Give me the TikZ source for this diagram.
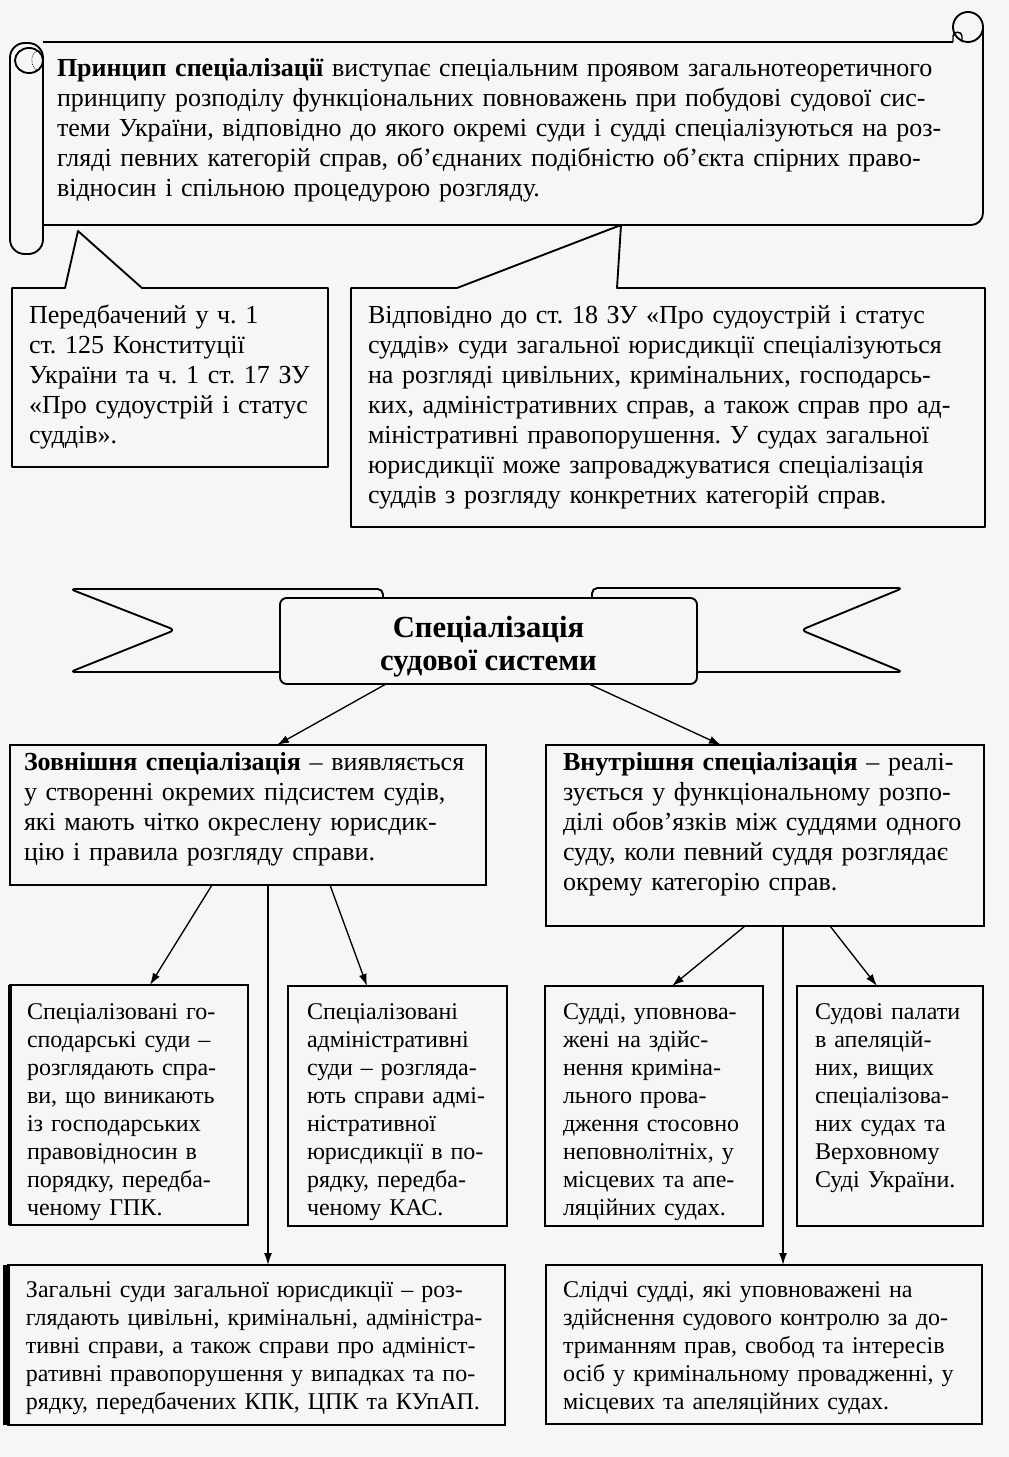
\documentclass[tikz,border=0pt]{standalone}
\usepackage{fontspec}
\setmainfont{Liberation Serif}
\usetikzlibrary{arrows.meta,calc,fit}
\definecolor{bgc}{HTML}{F6F6F6}
\frenchspacing
\newcommand\fu{\fontsize{19.5}{22.5}\selectfont}
\newcommand\fl{\fontsize{18}{21}\selectfont}
\newcommand\ftt{\fontsize{23}{24.75}\selectfont\bfseries}
\newcommand\J[1]{\makebox[\linewidth][s]{#1}}
\begin{document}
\begin{tikzpicture}[x=0.75pt,y=-0.75pt,
  ln/.style={line width=1.4pt, line join=round},
  box/.style={draw, line width=1.4pt, inner sep=0pt, outer sep=0pt, rectangle},
  txt/.style={anchor=north west, inner sep=0pt, outer sep=0pt, align=left},
  arr/.style={line width=1pt, -{Latex[length=9pt,width=6pt]}},
]
\useasboundingbox (0,0) rectangle (1009,1457);
\fill[bgc] (0,0) rectangle (1009,1457);

% ---------- scroll ----------
\draw[ln] (43,42) -- (953,42);
\draw[ln, rounded corners=9pt] (983,27) -- (983,225) -- (43,225);
\draw[ln] (968,27) circle (11.25pt);
\draw[line width=1.1pt] (953,42) -- (953,36) .. controls (953,31) and (962,31) .. (962,36) -- (962,42);
\draw[ln, rounded corners=11pt] (10,43) rectangle (43,254);
\draw[ln] (29,60.5) ellipse [x radius=10.5pt, y radius=9.4pt];
\draw[line width=0.6pt, densely dotted] (37,51) .. controls (30,54) and (30,67) .. (38,71);
\node[txt, font=\fu, text width=663.75pt] (princ) at (57,55) {%
\J{\strut\textbf{Принцип спеціалізації} виступає спеціальним проявом загальнотеоретичного}\\
\J{принципу розподілу функціональних повноважень при побудові судової сис-}\\
\J{теми України, відповідно до якого окремі суди і судді спеціалізуються на роз-}\\
\J{гляді певних категорій справ, об’єднаних подібністю об’єкта спірних право-}\\
відносин і спільною процедурою розгляду.};

% ---------- callout boxes ----------
\draw[ln] (12,288) -- (65,288) -- (78,231) -- (142,288) -- (328,288) -- (328,467) -- (12,467) -- cycle;
\node[txt, font=\fu, text width=225pt] (konst) at (29,302) {%
\strut Передбачений у ч. 1\\
ст. 125 Конституції\\
України та ч. 1 ст. 17 ЗУ\\
«Про судоустрій і статус\\
суддів».};

\draw[ln] (351,288) -- (457,288) -- (621,225) -- (617,288) -- (985,288) -- (985,527) -- (351,527) -- cycle;
\node[txt, font=\fu, text width=448.5pt] (st18) at (368,302) {%
\J{\strut Відповідно до ст. 18 ЗУ «Про судоустрій і статус}\\
\J{суддів» суди загальної юрисдикції спеціалізуються}\\
\J{на розгляді цивільних, кримінальних, господарсь-}\\
\J{ких, адміністративних справ, а також справ про ад-}\\
\J{міністративні правопорушення. У судах загальної}\\
\J{юрисдикції може запроваджуватися спеціалізація}\\
суддів з розгляду конкретних категорій справ.};

% ---------- banner ----------
\draw[ln, rounded corners=4pt] (280,672) -- (70,672) -- (175,630) -- (70,589) -- (383,589) -- (383,598);
\draw[ln, rounded corners=4pt] (592,598) -- (592,588) -- (903,588) -- (801,630) -- (903,672) -- (697,672);
\node[box, rounded corners=5pt, fit={(280,598) (697,684)}] (ban) {};
\node[anchor=north, inner sep=0pt, align=center, font=\ftt] (bant) at (488.5,614) {\strut Спеціалізація\\судової системи};

% ---------- level 2 ----------
\node[box, fit={(10,745) (486,885)}] (zov) {};
\node[txt, font=\fu, text width=336pt] (zovt) at (24,749) {%
\J{\strut\textbf{Зовнішня спеціалізація} – виявляється}\\
\J{у створенні окремих підсистем судів,}\\
\J{які мають чітко окреслену юрисдик-}\\
цію і правила розгляду справи.};

\node[box, fit={(546,745) (984,926)}] (vnu) {};
\node[txt, font=\fu, text width=295.5pt] (vnut) at (563,749) {%
\J{\strut\textbf{Внутрішня спеціалізація} – реалі-}\\
\J{зується у функціональному розпо-}\\
\J{ділі обов’язків між суддями одного}\\
\J{суду, коли певний суддя розглядає}\\
окрему категорію справ.};

% ---------- level 3 ----------
\node[box, fit={(10,985) (248,1225)}] (gos) {};
\draw[line width=3.5pt] (gos.north west) -- (gos.south west);
\node[txt, font=\fl, text width=165pt] (gost) at (27,999.4) {%
\strut Спеціалізовані го-\\
сподарські суди –\\
розглядають спра-\\
ви, що виникають\\
із господарських\\
правовідносин в\\
порядку, передба-\\
ченому ГПК.};

\node[box, fit={(288,986) (507,1226)}] (adm) {};
\node[txt, font=\fl, text width=155pt] (admt) at (307,999.4) {%
\strut Спеціалізовані\\
адміністративні\\
суди – розгляда-\\
ють справи адмі-\\
ністративної\\
юрисдикції в по-\\
рядку, передба-\\
ченому КАС.};

\node[box, fit={(545,986) (763,1226)}] (sud) {};
\node[txt, font=\fl, text width=155pt] (sudt) at (563,999.4) {%
\strut Судді, уповнова-\\
жені на здійс-\\
нення кримінa-\\
льного прова-\\
дження стосовно\\
неповнолітніх, у\\
місцевих та апе-\\
ляційних судах.};

\node[box, fit={(797,986) (983,1226)}] (pal) {};
\node[txt, font=\fl, text width=130pt] (palt) at (815,999.4) {%
\strut Судові палати\\
в апеляцій-\\
них, вищих\\
спеціалізова-\\
них судах та\\
Верховному\\
Суді України.};

% ---------- level 4 ----------
\node[box, fit={(8,1265) (505,1425)}] (zag) {};
\draw[line width=5pt] ([xshift=-1pt]zag.north west) -- ([xshift=-1pt]zag.south west);
\node[txt, font=\fl, text width=342pt] (zagt) at (26,1277.4) {%
\J{\strut Загальні суди загальної юрисдикції – роз-}\\
\J{глядають цивільні, кримінальні, адміністра-}\\
\J{тивні справи, а також справи про адмініст-}\\
\J{ративні правопорушення у випадках та по-}\\
рядку, передбачених КПК, ЦПК та КУпАП.};

\node[box, fit={(546,1265) (982,1424)}] (sl) {};
\node[txt, font=\fl, text width=320pt] (slt) at (563,1277.4) {%
\strut Слідчі судді, які уповноважені на\\
здійснення судового контролю за до-\\
триманням прав, свобод та інтересів\\
осіб у кримінальному провадженні, у\\
місцевих та апеляційних судах.};

% ---------- arrows ----------
\draw[arr] ($(ban.south west)+(106,0)$) -- ($(zov.north west)+(267,0)$);
\draw[arr] ($(ban.south west)+(309,0)$) -- ($(vnu.north west)+(175,0)$);
\draw[arr] ($(zov.south west)+(202,0)$) -- ($(gos.north west)+(140,0)$);
\draw[arr] ($(zov.south west)+(258,0)$) -- ($(zag.north west)+(260,0)$);
\draw[arr] ($(zov.south west)+(320,0)$) -- ($(adm.north west)+(79,0)$);
\draw[arr] ($(vnu.south west)+(199,0)$) -- ($(sud.north west)+(127,0)$);
\draw[arr] ($(vnu.south west)+(237,0)$) -- ($(sl.north west)+(237,0)$);
\draw[arr] ($(vnu.south west)+(284,0)$) -- ($(pal.north west)+(80,0)$);
\end{tikzpicture}
\end{document}
